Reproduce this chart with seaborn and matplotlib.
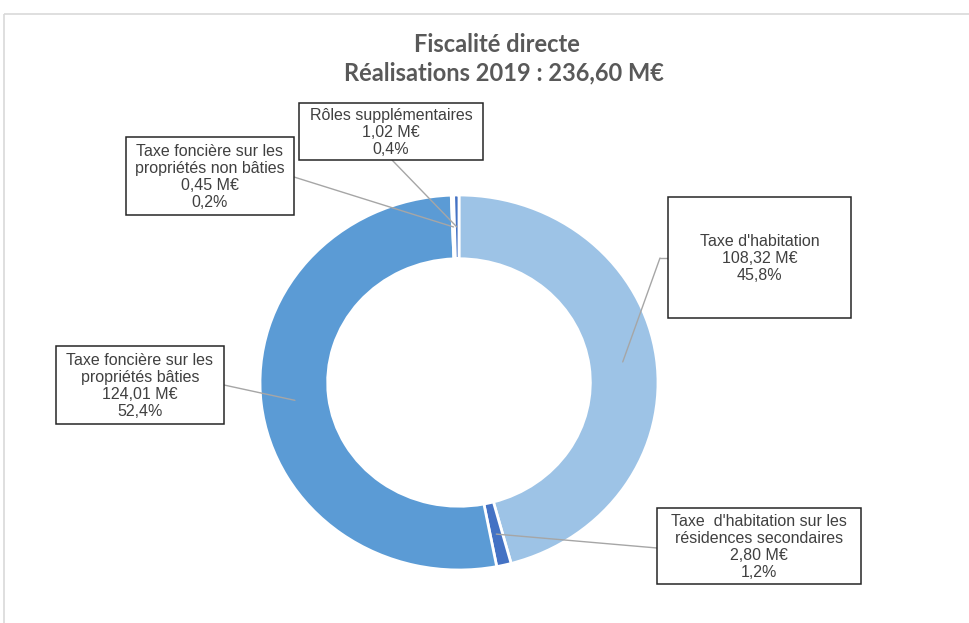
import numpy as np
import matplotlib
matplotlib.use("Agg")
import matplotlib.pyplot as plt
from matplotlib.patches import Rectangle
import seaborn as sns

# données
categories = [
    "Taxe d'habitation",
    "Taxe  d'habitation sur les\nrésidences secondaires",
    "Taxe foncière sur les\npropriétés bâties",
    "Taxe foncière sur les\npropriétés non bâties",
    "Rôles supplémentaires",
]
montants = [108.32, 2.80, 124.01, 0.45, 1.02]
couleurs = ["#9DC3E6", "#4472C4", "#5B9BD5", "#4472C4", "#4472C4"]

# boîtes des étiquettes (px) : x0, y0, x1, y1 ; point d'attache du trait
boites = [(668, 197, 851, 318), (657, 508, 861, 584), (56, 346, 224, 424),
          (126, 137, 294, 215), (299, 103, 483, 160)]
attaches = [(660, 258), (657, 548), (224, 385), (294, 177), (392, 160)]

W, H = 970, 623
total = sum(montants)

sns.set_theme(style="white")
plt.rcParams["font.family"] = ["Liberation Sans", "DejaVu Sans"]


def fx(x, y):
    return (x / W, 1 - y / H)


fig = plt.figure(figsize=(W / 100, H / 100), dpi=100)
fig.patches.append(Rectangle(fx(4, 14), 2, -2, transform=fig.transFigure,
                             fill=False, edgecolor="#D9D9D9", lw=1.2))

# anneau légèrement étiré horizontalement comme dans l'original
cx, cy, rx, ry = 459, 382.5, 199, 187.5
ax = fig.add_axes([(cx - rx) / W, (H - cy - ry) / H, 2 * rx / W, 2 * ry / H])
wedges, _ = ax.pie(montants, colors=couleurs, startangle=90, counterclock=False,
                   radius=1, wedgeprops=dict(width=0.34, edgecolor="white", linewidth=2))
ax.set_xlim(-1, 1)
ax.set_ylim(-1, 1)
ax.set_aspect("auto")
ax.axis("off")

for i, (w, nom, v) in enumerate(zip(wedges, categories, montants)):
    ang = np.deg2rad((w.theta1 + w.theta2) / 2)
    pt = (0.83 * np.cos(ang), 0.83 * np.sin(ang))
    ax.annotate("", xy=pt, xycoords="data", xytext=fx(*attaches[i]),
                textcoords="figure fraction",
                arrowprops=dict(arrowstyle="-", color="#A6A6A6", lw=1,
                                shrinkA=0, shrinkB=0))
    x0, y0, x1, y1 = boites[i]
    fig.patches.append(Rectangle(fx(x0, y1), (x1 - x0) / W, (y1 - y0) / H,
                                 transform=fig.transFigure, facecolor="white",
                                 edgecolor="#262626", lw=1.1, zorder=3))
    txt = f"{nom}\n{v:.2f} M€\n{v / total * 100:.1f}%".replace(".", ",")
    fig.text(*fx((x0 + x1) / 2, (y0 + y1) / 2 + 1), txt, ha="center", va="center",
             multialignment="center", fontsize=11.5, color="#404040",
             linespacing=1.17, zorder=4)

# petit coude du trait de la taxe d'habitation
fig.add_artist(plt.Line2D([660 / W, 668 / W], [1 - 258 / H] * 2, color="#A6A6A6", lw=1))

fig.text(*fx(497, 44), "Fiscalité directe", ha="center", va="center",
         fontsize=17, fontweight="bold", color="#595959", family=["Lato", "DejaVu Sans"])
fig.text(*fx(504, 73), f"Réalisations 2019 : {total:.2f} M€".replace(".", ","),
         ha="center", va="center", fontsize=17, fontweight="bold", color="#595959",
         family=["Lato", "DejaVu Sans"])

fig.savefig("out.png", dpi=100)
